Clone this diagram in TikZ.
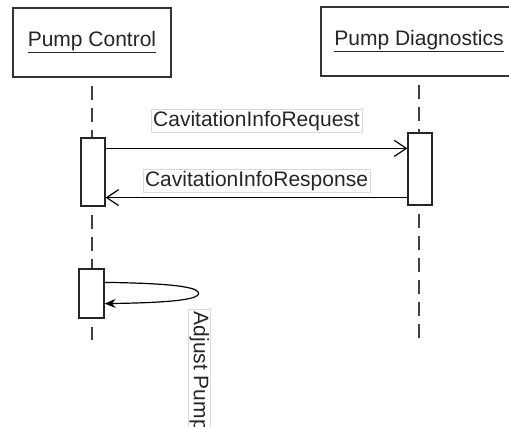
\documentclass[tikz,border=0pt]{standalone}
\usepackage{fontspec}
\setmainfont{Liberation Sans}
\usetikzlibrary{arrows.meta}
\begin{document}
\begin{tikzpicture}[x=1pt, y=-1pt,
    font=\fontsize{21}{24}\selectfont, text=black!85,
    objbox/.style={draw=black!80, line width=1.5pt, minimum height=69pt, inner sep=0pt},
    actbox/.style={draw=black!85, line width=1.2pt, fill=white, minimum width=24pt, inner sep=0pt},
    life/.style={draw=black!75, line width=1.2pt, dash pattern=on 14pt off 8pt, dash phase=14pt},
    msg/.style={line width=1.2pt, -{Straight Barb[length=12pt,width=16pt]}},
    lbl/.style={draw=black!15, line width=0.6pt, inner xsep=2pt, inner ysep=1.5pt}]
  \clip (0,0) rectangle (509,427);
  \fill[white] (0,0) rectangle (509,427);
  % objects
  \node[objbox, minimum width=158pt] (ctrl) at (92,42.5) {\underline{Pump Control}};
  \node[objbox, minimum width=196pt] (diag) at (419,41.5) {\underline{Pump Diagnostics}};
  % activations
  \node[actbox, minimum height=68pt] (act1) at (93,172) {};
  \node[actbox, minimum height=72pt] (act2) at (420,169) {};
  \node[actbox, minimum width=25pt, minimum height=49pt] (self) at (91.5,293.5) {};
  \coordinate (end1) at (92,340);
  \coordinate (end2) at (419,341);
  % lifelines
  \draw[life] (ctrl.south) -- (act1.north -| ctrl.south);
  \draw[life] (act1.south -| ctrl.south) -- (self.north -| ctrl.south);
  \draw[life] (self.south -| ctrl.south) -- (end1);
  \draw[life] (diag.south) -- (act2.north -| diag.south);
  \draw[life] (act2.south -| diag.south) -- (end2);
  % messages
  \draw[msg] ([yshift=-11pt]act1.north east) -- ([yshift=-16pt]act2.north west)
    node[lbl, midway, above=16pt] {CavitationInfoRequest};
  \draw[msg] ([yshift=8pt]act2.south west) -- ([yshift=9pt]act1.south east)
    node[lbl, midway, above=5pt] {CavitationInfoResponse};
  \coordinate (apex) at ([xshift=94pt]self.east);
  \draw[line width=1.2pt, -{Stealth[length=11pt,width=9pt]}] ([yshift=-14pt]self.north east)
    .. controls +(80,1) and +(0,-5) .. (apex)
    .. controls +(0,5) and +(75,-1) .. ([yshift=15pt]self.south east);
  \node[lbl, rotate=-90, anchor=south west] (adj) at ([xshift=-11pt,yshift=-16pt]apex) {Adjust Pump};
\end{tikzpicture}
\end{document}
